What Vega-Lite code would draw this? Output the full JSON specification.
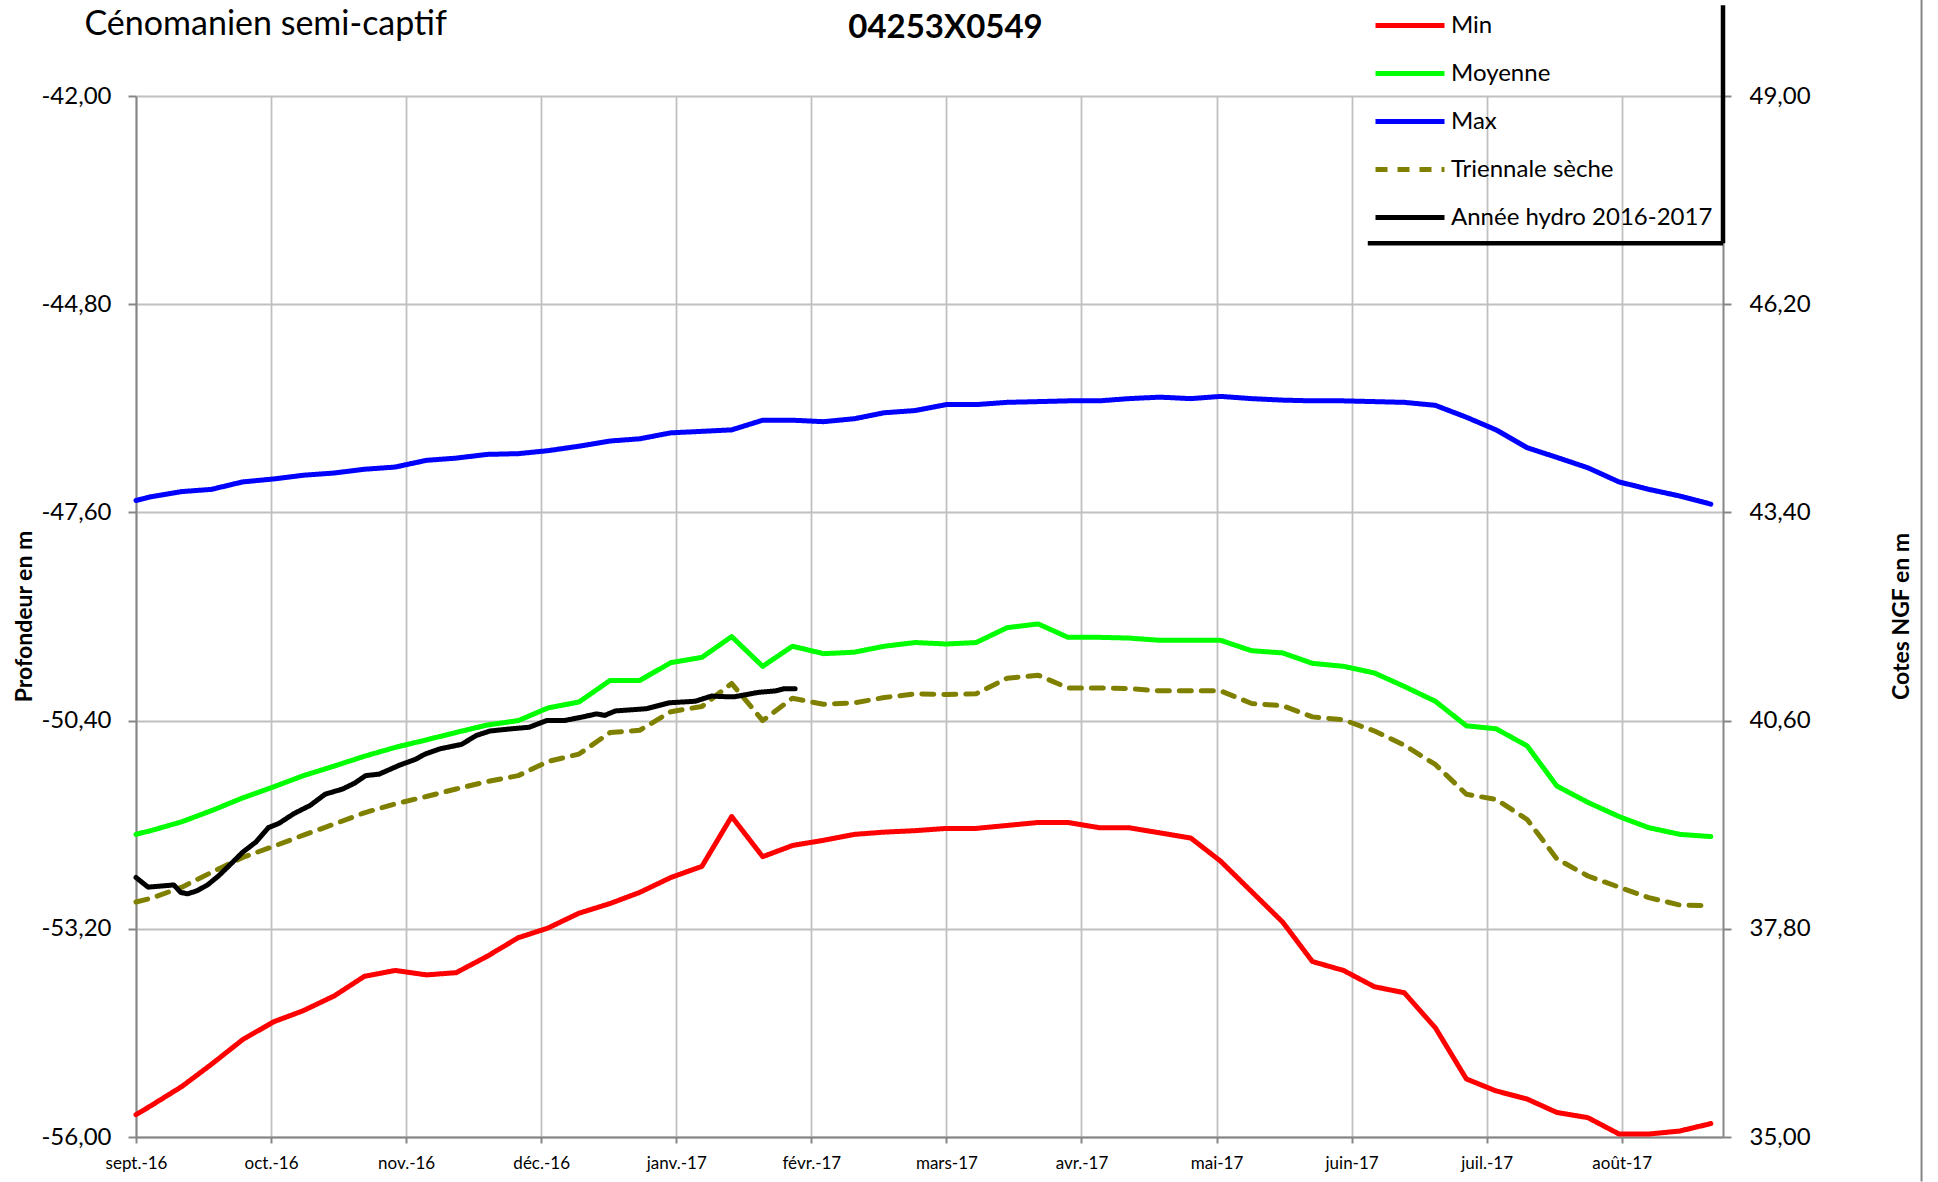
{
  "$schema": "https://vega.github.io/schema/vega-lite/v6.json",
  "width": 1587,
  "height": 1041,
  "autosize": "none",
  "padding": {"left": 136, "top": 96, "right": 215, "bottom": 45},
  "background": "white",
  "config": {"font": "Lato", "view": {"stroke": null}},
  "title": {"text": "04253X0549", "anchor": "middle", "frame": "group", "font": "Lato", "fontSize": 33, "fontWeight": "bold", "color": "black", "dx": 16, "dy": 47, "offset": 0},
  "data": {"values": [
    {"serie": "Min", "mois": 0, "niveau": -55.70}, {"serie": "Min", "mois": 0.11, "niveau": -55.58}, {"serie": "Min", "mois": 0.34, "niveau": -55.32}, {"serie": "Min", "mois": 0.56, "niveau": -55.02}, {"serie": "Min", "mois": 0.79, "niveau": -54.69}, {"serie": "Min", "mois": 1.02, "niveau": -54.45}, {"serie": "Min", "mois": 1.24, "niveau": -54.30}, {"serie": "Min", "mois": 1.47, "niveau": -54.10}, {"serie": "Min", "mois": 1.69, "niveau": -53.84}, {"serie": "Min", "mois": 1.92, "niveau": -53.76}, {"serie": "Min", "mois": 2.15, "niveau": -53.82}, {"serie": "Min", "mois": 2.37, "niveau": -53.79}, {"serie": "Min", "mois": 2.60, "niveau": -53.57}, {"serie": "Min", "mois": 2.83, "niveau": -53.32}, {"serie": "Min", "mois": 3.05, "niveau": -53.19}, {"serie": "Min", "mois": 3.28, "niveau": -52.99}, {"serie": "Min", "mois": 3.51, "niveau": -52.86}, {"serie": "Min", "mois": 3.73, "niveau": -52.71}, {"serie": "Min", "mois": 3.96, "niveau": -52.51}, {"serie": "Min", "mois": 4.19, "niveau": -52.36}, {"serie": "Min", "mois": 4.41, "niveau": -51.69}, {"serie": "Min", "mois": 4.64, "niveau": -52.23}, {"serie": "Min", "mois": 4.86, "niveau": -52.08}, {"serie": "Min", "mois": 5.09, "niveau": -52.01}, {"serie": "Min", "mois": 5.32, "niveau": -51.93}, {"serie": "Min", "mois": 5.54, "niveau": -51.90}, {"serie": "Min", "mois": 5.77, "niveau": -51.88}, {"serie": "Min", "mois": 6.00, "niveau": -51.85}, {"serie": "Min", "mois": 6.22, "niveau": -51.85}, {"serie": "Min", "mois": 6.45, "niveau": -51.81}, {"serie": "Min", "mois": 6.68, "niveau": -51.77}, {"serie": "Min", "mois": 6.90, "niveau": -51.77}, {"serie": "Min", "mois": 7.13, "niveau": -51.84}, {"serie": "Min", "mois": 7.35, "niveau": -51.84}, {"serie": "Min", "mois": 7.58, "niveau": -51.91}, {"serie": "Min", "mois": 7.81, "niveau": -51.98}, {"serie": "Min", "mois": 8.03, "niveau": -52.29}, {"serie": "Min", "mois": 8.26, "niveau": -52.70}, {"serie": "Min", "mois": 8.49, "niveau": -53.11}, {"serie": "Min", "mois": 8.71, "niveau": -53.64}, {"serie": "Min", "mois": 8.94, "niveau": -53.76}, {"serie": "Min", "mois": 9.17, "niveau": -53.98}, {"serie": "Min", "mois": 9.39, "niveau": -54.06}, {"serie": "Min", "mois": 9.62, "niveau": -54.53}, {"serie": "Min", "mois": 9.85, "niveau": -55.22}, {"serie": "Min", "mois": 10.07, "niveau": -55.38}, {"serie": "Min", "mois": 10.30, "niveau": -55.49}, {"serie": "Min", "mois": 10.52, "niveau": -55.67}, {"serie": "Min", "mois": 10.75, "niveau": -55.74}, {"serie": "Min", "mois": 10.98, "niveau": -55.96}, {"serie": "Min", "mois": 11.20, "niveau": -55.96}, {"serie": "Min", "mois": 11.43, "niveau": -55.92}, {"serie": "Min", "mois": 11.66, "niveau": -55.82},
    {"serie": "Moyenne", "mois": 0, "niveau": -51.93}, {"serie": "Moyenne", "mois": 0.11, "niveau": -51.88}, {"serie": "Moyenne", "mois": 0.34, "niveau": -51.76}, {"serie": "Moyenne", "mois": 0.56, "niveau": -51.61}, {"serie": "Moyenne", "mois": 0.79, "niveau": -51.44}, {"serie": "Moyenne", "mois": 1.02, "niveau": -51.29}, {"serie": "Moyenne", "mois": 1.24, "niveau": -51.14}, {"serie": "Moyenne", "mois": 1.47, "niveau": -51.01}, {"serie": "Moyenne", "mois": 1.69, "niveau": -50.88}, {"serie": "Moyenne", "mois": 1.92, "niveau": -50.76}, {"serie": "Moyenne", "mois": 2.15, "niveau": -50.66}, {"serie": "Moyenne", "mois": 2.37, "niveau": -50.56}, {"serie": "Moyenne", "mois": 2.60, "niveau": -50.46}, {"serie": "Moyenne", "mois": 2.83, "niveau": -50.40}, {"serie": "Moyenne", "mois": 3.05, "niveau": -50.23}, {"serie": "Moyenne", "mois": 3.28, "niveau": -50.15}, {"serie": "Moyenne", "mois": 3.51, "niveau": -49.86}, {"serie": "Moyenne", "mois": 3.73, "niveau": -49.86}, {"serie": "Moyenne", "mois": 3.96, "niveau": -49.62}, {"serie": "Moyenne", "mois": 4.19, "niveau": -49.55}, {"serie": "Moyenne", "mois": 4.41, "niveau": -49.27}, {"serie": "Moyenne", "mois": 4.64, "niveau": -49.67}, {"serie": "Moyenne", "mois": 4.86, "niveau": -49.40}, {"serie": "Moyenne", "mois": 5.09, "niveau": -49.50}, {"serie": "Moyenne", "mois": 5.32, "niveau": -49.48}, {"serie": "Moyenne", "mois": 5.54, "niveau": -49.40}, {"serie": "Moyenne", "mois": 5.77, "niveau": -49.35}, {"serie": "Moyenne", "mois": 6.00, "niveau": -49.37}, {"serie": "Moyenne", "mois": 6.22, "niveau": -49.35}, {"serie": "Moyenne", "mois": 6.45, "niveau": -49.15}, {"serie": "Moyenne", "mois": 6.68, "niveau": -49.10}, {"serie": "Moyenne", "mois": 6.90, "niveau": -49.28}, {"serie": "Moyenne", "mois": 7.13, "niveau": -49.28}, {"serie": "Moyenne", "mois": 7.35, "niveau": -49.29}, {"serie": "Moyenne", "mois": 7.58, "niveau": -49.32}, {"serie": "Moyenne", "mois": 7.81, "niveau": -49.32}, {"serie": "Moyenne", "mois": 8.03, "niveau": -49.32}, {"serie": "Moyenne", "mois": 8.26, "niveau": -49.46}, {"serie": "Moyenne", "mois": 8.49, "niveau": -49.49}, {"serie": "Moyenne", "mois": 8.71, "niveau": -49.63}, {"serie": "Moyenne", "mois": 8.94, "niveau": -49.67}, {"serie": "Moyenne", "mois": 9.17, "niveau": -49.76}, {"serie": "Moyenne", "mois": 9.39, "niveau": -49.94}, {"serie": "Moyenne", "mois": 9.62, "niveau": -50.14}, {"serie": "Moyenne", "mois": 9.85, "niveau": -50.47}, {"serie": "Moyenne", "mois": 10.07, "niveau": -50.51}, {"serie": "Moyenne", "mois": 10.30, "niveau": -50.74}, {"serie": "Moyenne", "mois": 10.52, "niveau": -51.28}, {"serie": "Moyenne", "mois": 10.75, "niveau": -51.50}, {"serie": "Moyenne", "mois": 10.98, "niveau": -51.69}, {"serie": "Moyenne", "mois": 11.20, "niveau": -51.84}, {"serie": "Moyenne", "mois": 11.43, "niveau": -51.93}, {"serie": "Moyenne", "mois": 11.66, "niveau": -51.96},
    {"serie": "Max", "mois": 0, "niveau": -47.44}, {"serie": "Max", "mois": 0.11, "niveau": -47.39}, {"serie": "Max", "mois": 0.34, "niveau": -47.32}, {"serie": "Max", "mois": 0.56, "niveau": -47.29}, {"serie": "Max", "mois": 0.79, "niveau": -47.19}, {"serie": "Max", "mois": 1.02, "niveau": -47.15}, {"serie": "Max", "mois": 1.24, "niveau": -47.10}, {"serie": "Max", "mois": 1.47, "niveau": -47.07}, {"serie": "Max", "mois": 1.69, "niveau": -47.02}, {"serie": "Max", "mois": 1.92, "niveau": -46.99}, {"serie": "Max", "mois": 2.15, "niveau": -46.90}, {"serie": "Max", "mois": 2.37, "niveau": -46.87}, {"serie": "Max", "mois": 2.60, "niveau": -46.82}, {"serie": "Max", "mois": 2.83, "niveau": -46.81}, {"serie": "Max", "mois": 3.05, "niveau": -46.77}, {"serie": "Max", "mois": 3.28, "niveau": -46.71}, {"serie": "Max", "mois": 3.51, "niveau": -46.64}, {"serie": "Max", "mois": 3.73, "niveau": -46.61}, {"serie": "Max", "mois": 3.96, "niveau": -46.53}, {"serie": "Max", "mois": 4.19, "niveau": -46.51}, {"serie": "Max", "mois": 4.41, "niveau": -46.49}, {"serie": "Max", "mois": 4.64, "niveau": -46.36}, {"serie": "Max", "mois": 4.86, "niveau": -46.36}, {"serie": "Max", "mois": 5.09, "niveau": -46.38}, {"serie": "Max", "mois": 5.32, "niveau": -46.34}, {"serie": "Max", "mois": 5.54, "niveau": -46.26}, {"serie": "Max", "mois": 5.77, "niveau": -46.23}, {"serie": "Max", "mois": 6.00, "niveau": -46.15}, {"serie": "Max", "mois": 6.22, "niveau": -46.15}, {"serie": "Max", "mois": 6.45, "niveau": -46.12}, {"serie": "Max", "mois": 6.68, "niveau": -46.11}, {"serie": "Max", "mois": 6.90, "niveau": -46.10}, {"serie": "Max", "mois": 7.13, "niveau": -46.10}, {"serie": "Max", "mois": 7.35, "niveau": -46.07}, {"serie": "Max", "mois": 7.58, "niveau": -46.05}, {"serie": "Max", "mois": 7.81, "niveau": -46.07}, {"serie": "Max", "mois": 8.03, "niveau": -46.04}, {"serie": "Max", "mois": 8.26, "niveau": -46.07}, {"serie": "Max", "mois": 8.49, "niveau": -46.09}, {"serie": "Max", "mois": 8.71, "niveau": -46.10}, {"serie": "Max", "mois": 8.94, "niveau": -46.10}, {"serie": "Max", "mois": 9.17, "niveau": -46.11}, {"serie": "Max", "mois": 9.39, "niveau": -46.12}, {"serie": "Max", "mois": 9.62, "niveau": -46.16}, {"serie": "Max", "mois": 9.85, "niveau": -46.32}, {"serie": "Max", "mois": 10.07, "niveau": -46.49}, {"serie": "Max", "mois": 10.30, "niveau": -46.73}, {"serie": "Max", "mois": 10.52, "niveau": -46.86}, {"serie": "Max", "mois": 10.75, "niveau": -47.00}, {"serie": "Max", "mois": 10.98, "niveau": -47.19}, {"serie": "Max", "mois": 11.20, "niveau": -47.29}, {"serie": "Max", "mois": 11.43, "niveau": -47.38}, {"serie": "Max", "mois": 11.66, "niveau": -47.49},
    {"serie": "Triennale sèche", "mois": 0, "niveau": -52.84}, {"serie": "Triennale sèche", "mois": 0.11, "niveau": -52.79}, {"serie": "Triennale sèche", "mois": 0.34, "niveau": -52.64}, {"serie": "Triennale sèche", "mois": 0.56, "niveau": -52.44}, {"serie": "Triennale sèche", "mois": 0.79, "niveau": -52.24}, {"serie": "Triennale sèche", "mois": 1.02, "niveau": -52.09}, {"serie": "Triennale sèche", "mois": 1.24, "niveau": -51.94}, {"serie": "Triennale sèche", "mois": 1.47, "niveau": -51.79}, {"serie": "Triennale sèche", "mois": 1.69, "niveau": -51.64}, {"serie": "Triennale sèche", "mois": 1.92, "niveau": -51.52}, {"serie": "Triennale sèche", "mois": 2.15, "niveau": -51.42}, {"serie": "Triennale sèche", "mois": 2.37, "niveau": -51.32}, {"serie": "Triennale sèche", "mois": 2.60, "niveau": -51.22}, {"serie": "Triennale sèche", "mois": 2.83, "niveau": -51.14}, {"serie": "Triennale sèche", "mois": 3.05, "niveau": -50.95}, {"serie": "Triennale sèche", "mois": 3.28, "niveau": -50.85}, {"serie": "Triennale sèche", "mois": 3.51, "niveau": -50.56}, {"serie": "Triennale sèche", "mois": 3.73, "niveau": -50.53}, {"serie": "Triennale sèche", "mois": 3.96, "niveau": -50.28}, {"serie": "Triennale sèche", "mois": 4.19, "niveau": -50.21}, {"serie": "Triennale sèche", "mois": 4.41, "niveau": -49.90}, {"serie": "Triennale sèche", "mois": 4.64, "niveau": -50.40}, {"serie": "Triennale sèche", "mois": 4.86, "niveau": -50.10}, {"serie": "Triennale sèche", "mois": 5.09, "niveau": -50.18}, {"serie": "Triennale sèche", "mois": 5.32, "niveau": -50.16}, {"serie": "Triennale sèche", "mois": 5.54, "niveau": -50.09}, {"serie": "Triennale sèche", "mois": 5.77, "niveau": -50.04}, {"serie": "Triennale sèche", "mois": 6.00, "niveau": -50.05}, {"serie": "Triennale sèche", "mois": 6.22, "niveau": -50.04}, {"serie": "Triennale sèche", "mois": 6.45, "niveau": -49.83}, {"serie": "Triennale sèche", "mois": 6.68, "niveau": -49.79}, {"serie": "Triennale sèche", "mois": 6.90, "niveau": -49.96}, {"serie": "Triennale sèche", "mois": 7.13, "niveau": -49.96}, {"serie": "Triennale sèche", "mois": 7.35, "niveau": -49.97}, {"serie": "Triennale sèche", "mois": 7.58, "niveau": -50.00}, {"serie": "Triennale sèche", "mois": 7.81, "niveau": -50.00}, {"serie": "Triennale sèche", "mois": 8.03, "niveau": -50.00}, {"serie": "Triennale sèche", "mois": 8.26, "niveau": -50.17}, {"serie": "Triennale sèche", "mois": 8.49, "niveau": -50.20}, {"serie": "Triennale sèche", "mois": 8.71, "niveau": -50.35}, {"serie": "Triennale sèche", "mois": 8.94, "niveau": -50.39}, {"serie": "Triennale sèche", "mois": 9.17, "niveau": -50.54}, {"serie": "Triennale sèche", "mois": 9.39, "niveau": -50.73}, {"serie": "Triennale sèche", "mois": 9.62, "niveau": -50.99}, {"serie": "Triennale sèche", "mois": 9.85, "niveau": -51.39}, {"serie": "Triennale sèche", "mois": 10.07, "niveau": -51.46}, {"serie": "Triennale sèche", "mois": 10.30, "niveau": -51.73}, {"serie": "Triennale sèche", "mois": 10.52, "niveau": -52.26}, {"serie": "Triennale sèche", "mois": 10.75, "niveau": -52.49}, {"serie": "Triennale sèche", "mois": 10.98, "niveau": -52.64}, {"serie": "Triennale sèche", "mois": 11.20, "niveau": -52.78}, {"serie": "Triennale sèche", "mois": 11.43, "niveau": -52.88}, {"serie": "Triennale sèche", "mois": 11.66, "niveau": -52.89},
    {"serie": "Année hydro 2016-2017", "mois": 0, "niveau": -52.51}, {"serie": "Année hydro 2016-2017", "mois": 0.09, "niveau": -52.64}, {"serie": "Année hydro 2016-2017", "mois": 0.28, "niveau": -52.61}, {"serie": "Année hydro 2016-2017", "mois": 0.33, "niveau": -52.71}, {"serie": "Année hydro 2016-2017", "mois": 0.38, "niveau": -52.73}, {"serie": "Année hydro 2016-2017", "mois": 0.45, "niveau": -52.69}, {"serie": "Année hydro 2016-2017", "mois": 0.53, "niveau": -52.61}, {"serie": "Année hydro 2016-2017", "mois": 0.61, "niveau": -52.49}, {"serie": "Année hydro 2016-2017", "mois": 0.69, "niveau": -52.35}, {"serie": "Année hydro 2016-2017", "mois": 0.79, "niveau": -52.17}, {"serie": "Année hydro 2016-2017", "mois": 0.89, "niveau": -52.03}, {"serie": "Année hydro 2016-2017", "mois": 0.98, "niveau": -51.84}, {"serie": "Année hydro 2016-2017", "mois": 1.06, "niveau": -51.78}, {"serie": "Année hydro 2016-2017", "mois": 1.17, "niveau": -51.65}, {"serie": "Année hydro 2016-2017", "mois": 1.29, "niveau": -51.54}, {"serie": "Année hydro 2016-2017", "mois": 1.40, "niveau": -51.39}, {"serie": "Année hydro 2016-2017", "mois": 1.53, "niveau": -51.32}, {"serie": "Année hydro 2016-2017", "mois": 1.62, "niveau": -51.24}, {"serie": "Année hydro 2016-2017", "mois": 1.70, "niveau": -51.14}, {"serie": "Année hydro 2016-2017", "mois": 1.80, "niveau": -51.12}, {"serie": "Année hydro 2016-2017", "mois": 1.95, "niveau": -51.00}, {"serie": "Année hydro 2016-2017", "mois": 2.07, "niveau": -50.92}, {"serie": "Année hydro 2016-2017", "mois": 2.14, "niveau": -50.85}, {"serie": "Année hydro 2016-2017", "mois": 2.25, "niveau": -50.78}, {"serie": "Année hydro 2016-2017", "mois": 2.41, "niveau": -50.72}, {"serie": "Année hydro 2016-2017", "mois": 2.52, "niveau": -50.60}, {"serie": "Année hydro 2016-2017", "mois": 2.62, "niveau": -50.54}, {"serie": "Année hydro 2016-2017", "mois": 2.78, "niveau": -50.51}, {"serie": "Année hydro 2016-2017", "mois": 2.91, "niveau": -50.49}, {"serie": "Année hydro 2016-2017", "mois": 3.04, "niveau": -50.40}, {"serie": "Année hydro 2016-2017", "mois": 3.17, "niveau": -50.40}, {"serie": "Année hydro 2016-2017", "mois": 3.31, "niveau": -50.35}, {"serie": "Année hydro 2016-2017", "mois": 3.41, "niveau": -50.31}, {"serie": "Année hydro 2016-2017", "mois": 3.47, "niveau": -50.33}, {"serie": "Année hydro 2016-2017", "mois": 3.55, "niveau": -50.27}, {"serie": "Année hydro 2016-2017", "mois": 3.78, "niveau": -50.24}, {"serie": "Année hydro 2016-2017", "mois": 3.95, "niveau": -50.16}, {"serie": "Année hydro 2016-2017", "mois": 4.14, "niveau": -50.14}, {"serie": "Année hydro 2016-2017", "mois": 4.26, "niveau": -50.07}, {"serie": "Année hydro 2016-2017", "mois": 4.38, "niveau": -50.08}, {"serie": "Année hydro 2016-2017", "mois": 4.43, "niveau": -50.08}, {"serie": "Année hydro 2016-2017", "mois": 4.61, "niveau": -50.02}, {"serie": "Année hydro 2016-2017", "mois": 4.74, "niveau": -50.00}, {"serie": "Année hydro 2016-2017", "mois": 4.80, "niveau": -49.97}, {"serie": "Année hydro 2016-2017", "mois": 4.88, "niveau": -49.97}
  ]},
  "layer": [
    {
      "layer": [
        {
          "mark": {"type": "line", "strokeWidth": 5, "strokeCap": "round", "strokeJoin": "round"},
          "encoding": {
            "x": {"field": "mois", "type": "quantitative",
              "scale": {"domain": [0, 11.75], "nice": false, "zero": false},
              "axis": {"values": [0, 1, 2, 3, 4, 5, 6, 7, 8, 9, 10, 11],
                "labelExpr": "['sept.-16','oct.-16','nov.-16','déc.-16','janv.-17','févr.-17','mars-17','avr.-17','mai-17','juin-17','juil.-17','août-17'][datum.value]",
                "labelFont": "Lato", "labelFontSize": 17, "labelColor": "black", "labelFlush": false, "labelOverlap": false, "labelBound": false, "labelPadding": 12,
                "tickSize": 6, "tickColor": "#868686", "tickWidth": 2,
                "domainColor": "#868686", "domainWidth": 2,
                "grid": true, "gridColor": "#c0c0c0", "gridWidth": 1.8,
                "title": "Cénomanien semi-captif", "titleFont": "Lato", "titleFontSize": 34, "titleFontWeight": "normal", "titleColor": "black",
                "titleX": -52, "titleY": -1103, "titleAlign": "left", "titleBaseline": "alphabetic", "titleAngle": 0}},
            "y": {"field": "niveau", "type": "quantitative",
              "scale": {"domain": [-56, -42], "nice": false, "zero": false},
              "axis": {"orient": "left", "values": [-56, -53.2, -50.4, -47.6, -44.8, -42],
                "labelExpr": "replace(replace(format(datum.value, '.2f'), '.', ','), '−', '-')",
                "labelFont": "Lato", "labelFontSize": 24, "labelColor": "black", "labelPadding": 17,
                "tickSize": 8, "tickColor": "#868686", "tickWidth": 2,
                "domainColor": "#868686", "domainWidth": 2,
                "grid": true, "gridColor": "#c0c0c0", "gridWidth": 1.8,
                "title": "Profondeur en m", "titleFont": "Lato", "titleFontSize": 23, "titleFontWeight": "bold", "titleColor": "black",
                "titleAngle": 270, "titleX": -105, "titleY": 520, "titleAlign": "center", "titleBaseline": "alphabetic"}},
            "color": {"field": "serie", "type": "nominal",
              "scale": {"domain": ["Min", "Moyenne", "Max", "Triennale sèche", "Année hydro 2016-2017"], "range": ["#ff0000", "#00ff00", "#0000ff", "#808000", "#000000"]},
              "legend": {"orient": "none", "legendX": 1237, "legendY": -94.5, "title": null, "padding": 0,
                "symbolType": "stroke", "symbolSize": 4761, "symbolStrokeWidth": 5, "clipHeight": 48, "rowPadding": 0,
                "labelOffset": 4, "labelFont": "Lato", "labelFontSize": 24, "labelColor": "black", "labelLimit": 400}},
            "strokeDash": {"field": "serie", "type": "nominal",
              "scale": {"domain": ["Min", "Moyenne", "Max", "Triennale sèche", "Année hydro 2016-2017"], "range": [[1, 0], [1, 0], [1, 0], [12, 10], [1, 0]]},
              "legend": {"orient": "none", "legendX": 1237, "legendY": -94.5, "title": null, "padding": 0,
                "symbolType": "stroke", "symbolSize": 4761, "symbolStrokeWidth": 5, "clipHeight": 48, "rowPadding": 0,
                "labelOffset": 4, "labelFont": "Lato", "labelFontSize": 24, "labelColor": "black", "labelLimit": 400}}
          }
        },
        {
          "data": {"values": [{}]},
          "mark": {"type": "rule", "clip": false, "color": "black", "strokeWidth": 4.5},
          "encoding": {"x": {"datum": 11.75}, "y": {"datum": -40.78}, "y2": {"datum": -43.98}}
        },
        {
          "data": {"values": [{}]},
          "mark": {"type": "rule", "clip": false, "color": "black", "strokeWidth": 4.5},
          "encoding": {"x": {"datum": 9.12}, "x2": {"datum": 11.75}, "y": {"datum": -43.98}}
        },
        {
          "data": {"values": [{}]},
          "mark": {"type": "rule", "clip": false, "color": "#868686", "strokeWidth": 2},
          "encoding": {"x": {"datum": 13.22}, "y": {"datum": -40.7}, "y2": {"datum": -56.6}}
        }
      ]
    },
    {
      "data": {"values": [{}]},
      "mark": {"type": "rule", "opacity": 0},
      "encoding": {
        "y": {"datum": 42, "type": "quantitative",
          "scale": {"domain": [35, 49], "nice": false, "zero": false},
          "axis": {"orient": "right", "values": [35, 37.8, 40.6, 43.4, 46.2, 49],
            "labelExpr": "replace(format(datum.value, '.2f'), '.', ',')",
            "labelFont": "Lato", "labelFontSize": 24, "labelColor": "black", "labelPadding": 18,
            "tickSize": 8, "tickColor": "#868686", "tickWidth": 2,
            "domainColor": "#868686", "domainWidth": 2, "grid": false,
            "title": "Cotes NGF en m", "titleFont": "Lato", "titleFontSize": 23, "titleFontWeight": "bold", "titleColor": "black",
            "titleAngle": 270, "titleX": 185, "titleY": 520, "titleAlign": "center", "titleBaseline": "alphabetic"}}
      }
    }
  ],
  "resolve": {"scale": {"y": "independent"}}
}
